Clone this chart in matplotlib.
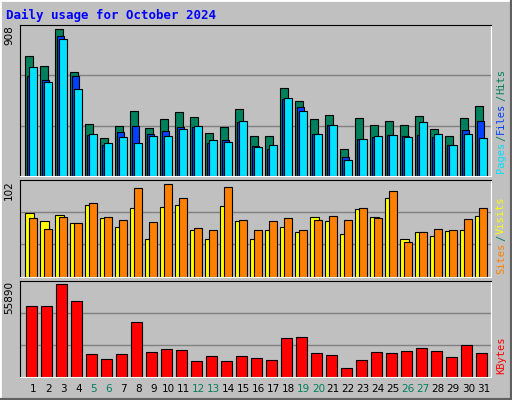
import numpy as np
import matplotlib
matplotlib.use("Agg")
from matplotlib import pyplot as plt

days = np.arange(1, 32)
weekend = [5, 6, 12, 13, 19, 20, 26, 27]

hits = [743, 681, 908, 644, 322, 235, 310, 402, 297, 353, 396, 365, 266, 303, 415, 248,
        248, 545, 464, 353, 378, 167, 359, 316, 341, 316, 372, 291, 248, 359, 433]
files = [619, 594, 867, 619, 254, 192, 272, 310, 260, 279, 303, 303, 204, 223, 334, 186,
         167, 477, 427, 260, 316, 118, 229, 241, 254, 248, 254, 241, 192, 285, 341]
pages = [675, 582, 848, 539, 260, 204, 241, 204, 248, 248, 291, 310, 223, 211, 341, 180,
         192, 483, 402, 260, 316, 99, 229, 248, 254, 241, 334, 260, 192, 260, 235]
visits = [70, 61, 68, 59, 79, 65, 55, 76, 42, 77, 79, 51, 42, 78, 61, 41,
          51, 55, 49, 66, 61, 47, 75, 66, 87, 41, 49, 45, 50, 51, 67]
sites = [65, 53, 66, 59, 81, 66, 62, 98, 60, 102, 87, 54, 51, 99, 62, 51,
         61, 65, 51, 63, 67, 62, 76, 65, 94, 38, 49, 53, 52, 64, 76]
kbytes = [42990, 42990, 55890, 46060, 14120, 11050, 14120, 33160, 15350, 17190, 16580,
          9830, 12900, 9830, 12900, 11670, 10440, 23340, 23950, 14740, 13510, 5530,
          10440, 15350, 14740, 15970, 17810, 15970, 12280, 19650, 14740]

C_HITS, C_FILES, C_PAGES = "#00805C", "#0040FF", "#00E0FF"
C_VISITS, C_SITES, C_KB = "#FFFF00", "#FF8000", "#FF0000"
BG = "#C0C0C0"
W, H = 512, 400

fig = plt.figure(figsize=(5.12, 4.0), dpi=100, facecolor=BG)
mono = "DejaVu Sans Mono"

# outer bevel
fig.add_artist(plt.Line2D([0, 0, 1], [0, 1, 1], color="white", lw=2, transform=fig.transFigure))
fig.add_artist(plt.Line2D([0, 1, 1], [0, 0, 1], color="#606060", lw=3, transform=fig.transFigure))

fig.text(6 / W, 1 - 15 / H, "Daily usage for October 2024", color="#0000FF",
         family=mono, weight="bold", fontsize=9, va="center")


def panel(top_px, h_px, ymax):
    ax = fig.add_axes([20 / W, 1 - (top_px + h_px) / H, 471 / W, h_px / H])
    ax.set_facecolor(BG)
    ax.set_xlim(0.113, 31.51)
    ax.set_ylim(0, ymax)
    for v in (ymax / 3, 2 * ymax / 3):
        ax.axhline(v, color="#808080", lw=1, zorder=0)
    ax.set_xticks([])
    ax.set_yticks([])
    for s in ("left", "top"):
        ax.spines[s].set_color("black")
    for s in ("right", "bottom"):
        ax.spines[s].set_color("white")
    return ax


px = 1 / 15.0  # one pixel in day units
kw = dict(edgecolor="black", linewidth=0.8, align="edge")

ax1 = panel(25, 151, 935)
ax1.bar(days - 8 * px, hits, 7.4 * px, color=C_HITS, **kw)
ax1.bar(days - 6.3 * px, files, 7.4 * px, color=C_FILES, **kw)
ax1.bar(days - 4.3 * px, pages, 7.6 * px, color=C_PAGES, **kw)

ax2 = panel(180, 96.6, 106.7)
ax2.bar(days - 8 * px, visits, 8.4 * px, color=C_VISITS, **kw)
ax2.bar(days - 4.6 * px, sites, 8 * px, color=C_SITES, **kw)

ax3 = panel(280.7, 96.6, 58090)
ax3.bar(days - 7 * px, kbytes, 10.4 * px, color=C_KB, **kw)

for d in days:
    ax3.text(d, -0.12, str(d), transform=ax3.get_xaxis_transform(), ha="center", va="center",
             fontsize=7.5, color=C_HITS if d in weekend else "black")

# max labels on left
for ax, lab in ((ax1, "908"), (ax2, "102"), (ax3, "55890")):
    ax.text(-0.013, 1.0, lab, transform=ax.transAxes, rotation=90, ha="right", va="top",
            fontsize=7.5)

renderer = fig.canvas.get_renderer()


def side_label(ax, parts):
    # stacked rotated text pieces, bottom to top, measured one after another
    pos = ax.get_position()
    y = pos.y0 * H + 3
    for txt, col in parts:
        t = fig.text(496 / W, y / H, txt, rotation=90, color=col, family=mono, fontsize=7.5,
                     ha="left", va="bottom")
        y += t.get_window_extent(renderer).height + 1


side_label(ax1, [("Pages", C_PAGES), ("/", C_HITS), ("Files", C_FILES), ("/", C_HITS), ("Hits", C_HITS)])
side_label(ax2, [("Sites", C_SITES), ("/", C_HITS), ("Visits", C_VISITS)])
side_label(ax3, [("KBytes", C_KB)])

fig.savefig("out.png", dpi=100, facecolor=BG)
